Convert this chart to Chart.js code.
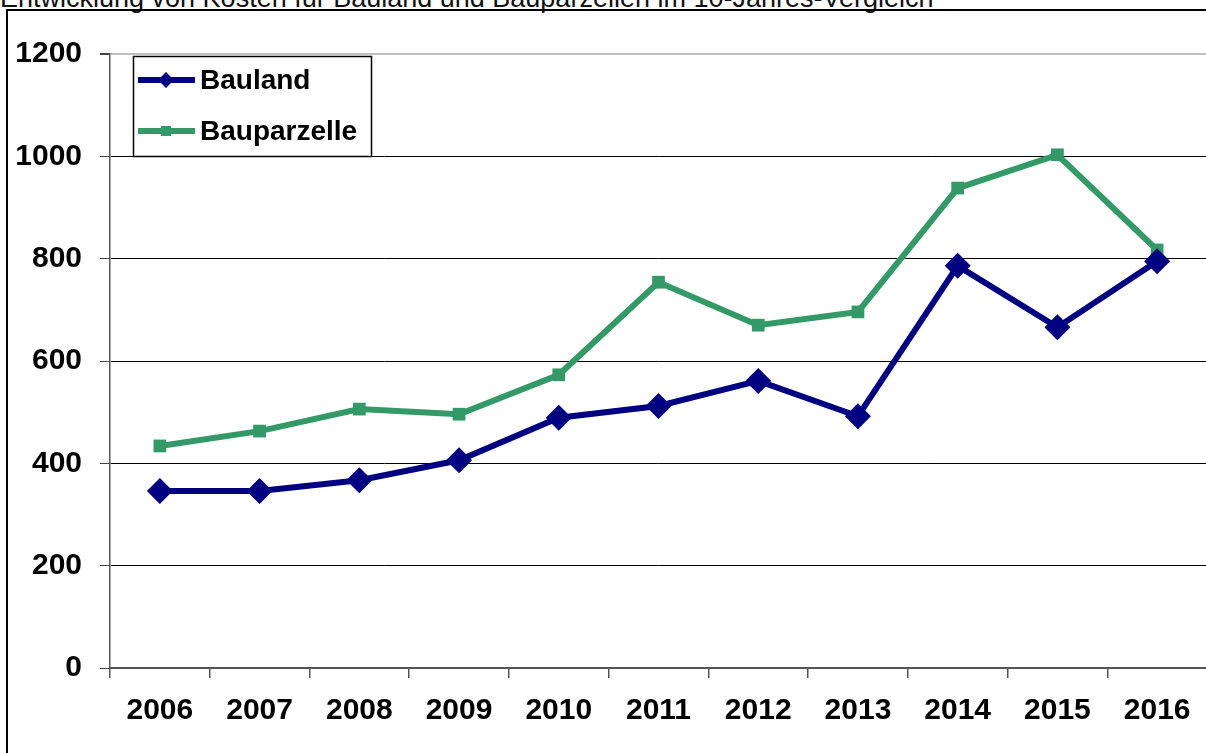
<!DOCTYPE html>
<html>
<head>
<meta charset="utf-8">
<script src="https://cdn.jsdelivr.net/npm/chart.js@4.4.1/dist/chart.umd.min.js"></script>
<style>
  html, body { margin: 0; padding: 0; background: #fff; overflow: hidden; }
  #wrap { position: relative; width: 1206px; height: 753px; overflow: hidden; }
  #title { position: absolute; left: 0; top: -15px; font: 27px "Liberation Sans", Arial, sans-serif; line-height: 27px; color: #111; white-space: nowrap; }
  #frame { position: absolute; left: 6px; top: 9px; width: 1300px; height: 900px; border-left: 2px solid #000; border-top: 2px solid #000; }
  #chartBox { position: absolute; left: 0; top: 0; width: 1220px; height: 753px; }
</style>
</head>
<body>
<div id="wrap">
  <div id="title">Entwicklung von Kosten für Bauland und Bauparzellen im 10-Jahres-Vergleich</div>
  <div id="frame"></div>
  <div id="chartBox"><canvas id="chart" width="1220" height="753"></canvas></div>
</div>
<script>
const years = ['2006', '2007', '2008', '2009', '2010', '2011', '2012', '2013', '2014', '2015', '2016'];
const bauland = [346, 346, 367, 406, 489, 512, 561, 492, 786, 666, 795];
const bauparzelle = [434, 463, 506, 496, 573, 754, 670, 696, 938, 1003, 817];
const seriesNames = ['Bauland', 'Bauparzelle'];

const tickFont = { family: '"Liberation Sans", Arial, sans-serif', size: 30, weight: 'bold' };

// legend box drawn inside the plot like the original
const boxLegend = {
  id: 'boxLegend',
  afterDraw(chart) {
    const c = chart.ctx;
    c.save();
    c.fillStyle = '#fff';
    c.fillRect(133, 56, 238, 100);
    c.strokeStyle = '#000';
    c.lineWidth = 1.5;
    c.strokeRect(133.5, 56.5, 238, 100);
    chart.data.datasets.forEach((ds, i) => {
      const y = 80 + i * 51;
      c.strokeStyle = ds.borderColor;
      c.lineWidth = 6;
      c.beginPath();
      c.moveTo(138, y);
      c.lineTo(195, y);
      c.stroke();
      c.fillStyle = ds.borderColor;
      if (ds.pointStyle === 'rectRot') {
        c.beginPath();
        c.moveTo(166, y - 8); c.lineTo(174, y); c.lineTo(166, y + 8); c.lineTo(158, y);
        c.closePath(); c.fill();
      } else {
        c.fillRect(161, y - 5, 10, 10);
      }
      c.fillStyle = '#000';
      c.font = 'bold 28px "Liberation Sans", Arial, sans-serif';
      c.textBaseline = 'middle';
      c.fillText(ds.label, 200, y + 1);
    });
    c.restore();
  }
};

new Chart(document.getElementById('chart'), {
  type: 'line',
  data: {
    labels: years,
    datasets: [{
      label: seriesNames[0],
      data: bauland,
      borderColor: '#000080',
      backgroundColor: '#000080',
      borderWidth: 6,
      pointStyle: 'rectRot',
      pointRadius: 13,
      pointBorderWidth: 0,
      tension: 0
    }, {
      label: seriesNames[1],
      data: bauparzelle,
      borderColor: '#339966',
      backgroundColor: '#339966',
      borderWidth: 6,
      pointStyle: 'rect',
      pointRadius: 9,
      pointBorderWidth: 0,
      tension: 0
    }]
  },
  options: {
    responsive: false,
    animation: false,
    layout: { padding: { top: 54, right: 10, left: 0, bottom: 0 } },
    plugins: { legend: { display: false }, tooltip: { enabled: false } },
    scales: {
      x: {
        offset: true,
        grid: { offset: true, drawOnChartArea: false, tickLength: 10, color: '#555', lineWidth: 1.5 },
        border: { color: '#555', width: 2 },
        ticks: { font: tickFont, color: '#000', padding: 15, maxRotation: 0, autoSkip: false },
        afterFit(s) { s.height = 85; }
      },
      y: {
        min: 0,
        max: 1200,
        grid: {
          tickLength: 10,
          color: ctx => ctx.tick && ctx.tick.value === 1200 ? '#c0c0c0' : '#000',
          lineWidth: ctx => ctx.tick && ctx.tick.value === 1200 ? 2 : 1,
          tickColor: '#444'
        },
        border: { color: '#555', width: 1.5 },
        ticks: { stepSize: 200, font: tickFont, color: '#000', padding: 18, callback: v => String(v) },
        afterFit(s) { s.width = 110; }
      }
    }
  },
  plugins: [boxLegend]
});
</script>
</body>
</html>
